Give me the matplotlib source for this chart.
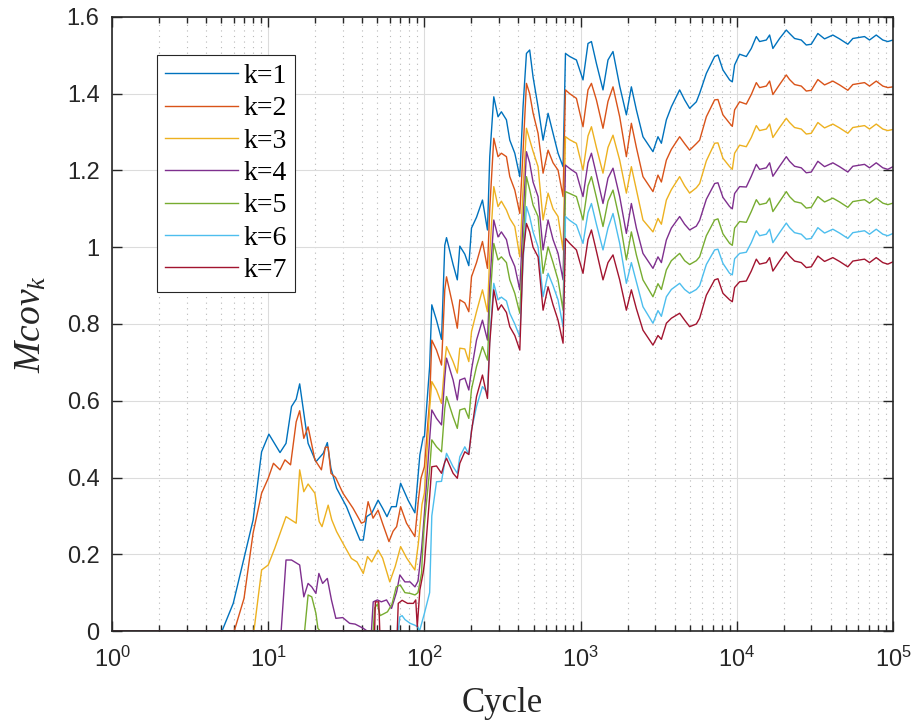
import matplotlib
matplotlib.use("Agg")
import matplotlib.pyplot as plt
from matplotlib.ticker import LogLocator, NullFormatter, FixedLocator, FuncFormatter

# ---- data (cycle, Mcov_k) ----
# early part, before the jump near 100 cycles, differs for each k
k1_early_x = [1, 5.06, 5.97, 8.0, 9.07, 10.1, 11.9, 13.0, 14.1, 15.1, 15.9, 18.0, 20.2, 22.5, 23.9,
              25.2, 27.4, 31.7, 35, 38.7, 40.6, 42.7, 46, 50.5, 54, 57.6, 61.5, 66, 70.4, 78.6,
              86.9, 93.5, 98.3]
k1_early_y = [0, 0, 0.072, 0.289, 0.467, 0.513, 0.465, 0.489, 0.585, 0.604, 0.644, 0.489, 0.441, 0.463, 0.491,
              0.424, 0.372, 0.324, 0.28, 0.237, 0.237, 0.298, 0.307, 0.341, 0.32, 0.298, 0.324, 0.324, 0.385, 0.341,
              0.308, 0.459, 0.506]

k2_early_x = [1, 6.06, 7.0, 8.0, 9.07, 10.0, 10.8, 11.9, 12.8, 13.9, 15.1, 15.9, 16.9, 18.0, 19.9,
              21.9, 23.2, 24.2, 25.2, 27, 30.1, 34.9, 39.5, 41.5, 43.6, 46.9, 50.5, 54, 59.3, 63,
              66.4, 70.4, 76.8, 86.9, 91.5, 95]
k2_early_y = [0, 0, 0.085, 0.255, 0.359, 0.398, 0.437, 0.420, 0.446, 0.433, 0.545, 0.574, 0.502, 0.532, 0.446,
              0.420, 0.479, 0.479, 0.411, 0.40, 0.359, 0.320, 0.281, 0.285, 0.337, 0.294, 0.315, 0.28, 0.233, 0.26,
              0.272, 0.324, 0.281, 0.246, 0.341, 0.398]

k3_early_x = [1, 8.1, 9.07, 10.0, 11.0, 13.0, 15.1, 15.9, 16.9, 18.0, 19.9, 21.2, 22.1, 24.2, 25.5,
              27.4, 30.9, 34.1, 37, 40.6, 43.2, 46, 50.5, 54, 60, 65, 70.4, 77, 86.9, 91.5, 96.5]
k3_early_y = [0, 0, 0.159, 0.172, 0.215, 0.298, 0.281, 0.420, 0.363, 0.383, 0.359, 0.285, 0.272, 0.328, 0.29,
              0.259, 0.220, 0.189, 0.18, 0.150, 0.194, 0.18, 0.211, 0.19, 0.128, 0.168, 0.220, 0.19, 0.159, 0.229, 0.33]

k4_early_x = [1, 12.1, 13.0, 14.1, 15.9, 16.9, 18.0, 19, 20.2, 21.1, 22.3, 23.9, 25.4, 27.1, 30,
              33.2, 36, 40.6, 43, 45.8, 47.0, 50, 53, 57.2, 61.6, 66.4, 69.6, 75, 80.9, 87,
              91, 95.8]
k4_early_y = [0, 0, 0.185, 0.185, 0.172, 0.089, 0.124, 0.115, 0.098, 0.150, 0.124, 0.137, 0.081, 0.033, 0.035,
              0.020, 0.018, 0.007, 0, 0, 0.076, 0.081, 0.076, 0.081, 0.059, 0.102, 0.146, 0.128, 0.128, 0.115,
              0.13, 0.211]

k5_early_x = [1, 17.1, 18.0, 19, 20.2, 20.8, 21.5, 47, 48, 50, 52, 55, 58, 62, 66,
              70, 75, 81, 87, 91, 95.8, 98.5]
k5_early_y = [0, 0, 0.094, 0.089, 0.046, 0.007, 0, 0, 0.06, 0.07, 0.04, 0.045, 0.05, 0.07, 0.115,
              0.12, 0.10, 0.098, 0.094, 0.10, 0.150, 0.25]

k6_early_x = [1, 68, 69.6, 72, 75, 81, 87, 91, 93, 96]
k6_early_y = [0, 0, 0.037, 0.04, 0.03, 0.02, 0.015, 0.01, 0, 0.02]

k7_early_x = [1, 48, 48.5, 51, 51.8, 67, 68, 72, 78, 85, 88, 90, 93.5, 98]
k7_early_y = [0, 0, 0.076, 0.076, 0, 0, 0.072, 0.08, 0.072, 0.072, 0.081, 0.011, 0.107, 0.15]

# later part, common cycle grid for all k
cycles = [100, 108, 111.5, 119.5, 128.7, 135, 138.5, 152.6, 162.4, 168.5,
          181.4, 192.4, 200.2, 215.5, 235.3, 253.3, 262, 278, 296, 311,
          335, 352, 379, 408, 428, 450, 472, 496, 534, 575,
          619, 666, 717, 772, 800, 852, 940, 1036, 1115, 1173,
          1262, 1391, 1497, 1612, 1779, 1963, 2113, 2275, 2507, 2905,
          3128, 3289, 3540, 3810, 4305, 4634, 4989, 5507, 5781, 6381,
          7211, 7571, 8150, 8995, 9359, 9681, 10420, 11500, 12380, 13330,
          13990, 15450, 16220, 17020, 18790, 20740, 21770, 23430, 25860, 27850,
          29970, 33030, 36460, 41190, 45480, 51370, 55320, 65710, 70730, 78080,
          86050, 92620, 100000]

k1 = [0.506, 0.689, 0.850, 0.810, 0.760, 1.005, 1.025, 0.955, 0.915, 1.003,
      0.982, 0.952, 1.050, 1.078, 1.123, 1.045, 1.236, 1.392, 1.340, 1.353,
      1.332, 1.279, 1.245, 1.184, 1.366, 1.505, 1.514, 1.444, 1.366, 1.279,
      1.349, 1.297, 1.245, 1.210, 1.505, 1.497, 1.488, 1.436, 1.531, 1.536,
      1.479, 1.410, 1.488, 1.510, 1.420, 1.345, 1.418, 1.358, 1.288, 1.249,
      1.288, 1.271, 1.332, 1.366, 1.410, 1.384, 1.362, 1.379, 1.401, 1.453,
      1.497, 1.501, 1.462, 1.436, 1.431, 1.475, 1.503, 1.497, 1.518, 1.549,
      1.536, 1.540, 1.553, 1.518, 1.544, 1.566, 1.557, 1.544, 1.540, 1.527,
      1.529, 1.557, 1.543, 1.553, 1.543, 1.529, 1.544, 1.549, 1.540, 1.553,
      1.540, 1.536, 1.540]
k2 = [0.428, 0.600, 0.758, 0.732, 0.693, 0.889, 0.923, 0.845, 0.789, 0.863,
      0.855, 0.832, 0.923, 0.960, 1.015, 0.945, 1.100, 1.284, 1.236, 1.245,
      1.236, 1.184, 1.149, 1.088, 1.250, 1.427, 1.400, 1.350, 1.297, 1.193,
      1.253, 1.220, 1.201, 1.132, 1.410, 1.400, 1.388, 1.314, 1.410, 1.427,
      1.384, 1.310, 1.380, 1.418, 1.340, 1.236, 1.323, 1.260, 1.184, 1.145,
      1.188, 1.170, 1.227, 1.255, 1.288, 1.270, 1.253, 1.270, 1.279, 1.340,
      1.384, 1.385, 1.345, 1.323, 1.315, 1.358, 1.379, 1.373, 1.398, 1.429,
      1.416, 1.420, 1.433, 1.398, 1.424, 1.449, 1.437, 1.424, 1.420, 1.407,
      1.409, 1.437, 1.423, 1.433, 1.423, 1.409, 1.424, 1.429, 1.420, 1.433,
      1.420, 1.416, 1.418]
k3 = [0.360, 0.580, 0.650, 0.628, 0.593, 0.700, 0.741, 0.702, 0.672, 0.737,
      0.735, 0.702, 0.780, 0.832, 0.889, 0.832, 0.980, 1.158, 1.106, 1.120,
      1.097, 1.075, 1.054, 0.975, 1.150, 1.310, 1.280, 1.250, 1.210, 1.071,
      1.141, 1.100, 1.080, 0.993, 1.288, 1.280, 1.271, 1.201, 1.290, 1.314,
      1.260, 1.193, 1.260, 1.292, 1.227, 1.141, 1.210, 1.150, 1.071, 1.040,
      1.075, 1.060, 1.123, 1.150, 1.184, 1.160, 1.141, 1.155, 1.166, 1.225,
      1.271, 1.272, 1.232, 1.210, 1.203, 1.245, 1.266, 1.262, 1.286, 1.317,
      1.304, 1.308, 1.321, 1.286, 1.312, 1.336, 1.325, 1.312, 1.308, 1.295,
      1.297, 1.325, 1.311, 1.321, 1.311, 1.297, 1.312, 1.317, 1.308, 1.321,
      1.308, 1.304, 1.307]
k4 = [0.307, 0.500, 0.576, 0.554, 0.537, 0.660, 0.711, 0.654, 0.602, 0.654,
      0.659, 0.628, 0.680, 0.758, 0.810, 0.758, 0.900, 1.071, 1.027, 1.040,
      1.020, 0.980, 0.950, 0.889, 1.070, 1.249, 1.220, 1.170, 1.132, 0.993,
      1.071, 1.020, 0.984, 0.915, 1.214, 1.205, 1.193, 1.132, 1.220, 1.245,
      1.190, 1.114, 1.180, 1.206, 1.132, 1.036, 1.114, 1.050, 0.984, 0.945,
      0.975, 0.960, 1.019, 1.050, 1.080, 1.060, 1.045, 1.055, 1.070, 1.125,
      1.166, 1.168, 1.130, 1.106, 1.100, 1.140, 1.158, 1.157, 1.185, 1.216,
      1.203, 1.207, 1.220, 1.185, 1.211, 1.236, 1.224, 1.211, 1.207, 1.194,
      1.196, 1.224, 1.210, 1.220, 1.210, 1.196, 1.211, 1.216, 1.207, 1.220,
      1.207, 1.203, 1.210]
k5 = [0.280, 0.420, 0.498, 0.480, 0.467, 0.580, 0.611, 0.558, 0.528, 0.576,
      0.580, 0.554, 0.630, 0.689, 0.741, 0.706, 0.850, 1.010, 0.967, 0.975,
      0.960, 0.915, 0.880, 0.828, 1.000, 1.184, 1.150, 1.110, 1.080, 0.932,
      1.001, 0.960, 0.915, 0.836, 1.145, 1.140, 1.132, 1.071, 1.160, 1.184,
      1.130, 1.054, 1.120, 1.149, 1.071, 0.967, 1.040, 0.980, 0.915, 0.871,
      0.905, 0.890, 0.941, 0.965, 0.984, 0.965, 0.955, 0.965, 0.975, 1.030,
      1.071, 1.074, 1.035, 1.010, 1.005, 1.050, 1.067, 1.065, 1.093, 1.124,
      1.111, 1.115, 1.128, 1.093, 1.119, 1.145, 1.132, 1.119, 1.115, 1.102,
      1.104, 1.132, 1.118, 1.128, 1.118, 1.104, 1.119, 1.124, 1.115, 1.128,
      1.115, 1.111, 1.115]
k6 = [0.046, 0.100, 0.300, 0.389, 0.390, 0.440, 0.463, 0.428, 0.411, 0.454,
      0.480, 0.460, 0.524, 0.585, 0.637, 0.620, 0.760, 0.906, 0.863, 0.870,
      0.860, 0.828, 0.800, 0.767, 0.960, 1.106, 1.080, 1.040, 1.001, 0.871,
      0.932, 0.900, 0.863, 0.793, 1.080, 1.070, 1.058, 1.010, 1.090, 1.114,
      1.060, 0.993, 1.050, 1.088, 1.010, 0.906, 0.960, 0.910, 0.845, 0.802,
      0.835, 0.820, 0.871, 0.890, 0.906, 0.890, 0.880, 0.890, 0.900, 0.955,
      0.993, 0.995, 0.958, 0.932, 0.928, 0.970, 0.984, 0.987, 1.012, 1.043,
      1.030, 1.034, 1.047, 1.012, 1.038, 1.063, 1.051, 1.038, 1.034, 1.021,
      1.023, 1.051, 1.037, 1.047, 1.037, 1.023, 1.038, 1.043, 1.034, 1.047,
      1.034, 1.030, 1.036]
k7 = [0.176, 0.350, 0.428, 0.430, 0.411, 0.440, 0.450, 0.411, 0.398, 0.437,
      0.467, 0.460, 0.520, 0.611, 0.667, 0.606, 0.750, 0.889, 0.836, 0.850,
      0.830, 0.793, 0.770, 0.732, 0.980, 1.062, 1.040, 1.000, 0.975, 0.836,
      0.897, 0.850, 0.810, 0.750, 1.023, 1.010, 0.993, 0.932, 1.020, 1.045,
      0.990, 0.915, 0.960, 0.980, 0.915, 0.836, 0.889, 0.840, 0.784, 0.745,
      0.770, 0.760, 0.802, 0.815, 0.828, 0.810, 0.793, 0.800, 0.815, 0.875,
      0.915, 0.918, 0.880, 0.863, 0.858, 0.895, 0.910, 0.912, 0.938, 0.969,
      0.956, 0.960, 0.973, 0.938, 0.964, 0.988, 0.977, 0.964, 0.960, 0.947,
      0.949, 0.977, 0.963, 0.973, 0.963, 0.949, 0.964, 0.969, 0.960, 0.973,
      0.960, 0.956, 0.962]

labels = ["k=1", "k=2", "k=3", "k=4", "k=5", "k=6", "k=7"]
colors = ["#0072BD", "#D95319", "#EDB120", "#7E2F8E", "#77AC30", "#4DBEEE", "#A2142F"]

early_x = [k1_early_x, k2_early_x, k3_early_x, k4_early_x, k5_early_x, k6_early_x, k7_early_x]
early_y = [k1_early_y, k2_early_y, k3_early_y, k4_early_y, k5_early_y, k6_early_y, k7_early_y]
late_y = [k1, k2, k3, k4, k5, k6, k7]

plt.rcParams['font.family'] = ['Liberation Sans', 'DejaVu Sans']
plt.rcParams['mathtext.fontset'] = 'custom'
plt.rcParams['mathtext.rm'] = 'Liberation Serif'
plt.rcParams['mathtext.it'] = 'Liberation Serif:italic'

fig = plt.figure(figsize=(9.13, 7.2), dpi=100)
ax = fig.add_axes([0.1227, 0.1236, 0.8554, 0.8528])

for i in range(7):
    x = early_x[i] + cycles
    y = early_y[i] + late_y[i]
    ax.plot(x, y, color=colors[i], lw=1.0, label=labels[i])

ax.set_xscale('log')
ax.set_xlim(1, 1e5)
ax.set_ylim(0, 1.6)
ax.yaxis.set_major_locator(FixedLocator([0, 0.2, 0.4, 0.6, 0.8, 1.0, 1.2, 1.4, 1.6]))
ax.yaxis.set_major_formatter(FuncFormatter(lambda v, p: "%g" % round(v, 2)))
ax.xaxis.set_minor_locator(LogLocator(base=10, subs=range(2, 10), numticks=20))
ax.xaxis.set_minor_formatter(NullFormatter())

ax.grid(True, which='major', color='#dcdcdc', lw=0.8, linestyle='-')
ax.grid(True, which='minor', axis='x', color='#b8b8b8', lw=0.8, linestyle=(0, (1, 4)))
ax.set_axisbelow(True)

for s in ax.spines.values():
    s.set_linewidth(1.2)
    s.set_color('#262626')
ax.tick_params(which='both', direction='in', top=True, right=True, colors='#262626',
               labelsize=17, width=1.0)
ax.tick_params(which='major', length=7)
ax.tick_params(which='minor', length=4)
ax.tick_params(axis='y', pad=9)
ax.tick_params(axis='x', pad=11)

ax.set_xlabel("Cycle", family='Liberation Serif', fontsize=25, labelpad=11, color='#262626')
ax.set_ylabel(r"$Mcov_k$", fontsize=27, labelpad=13, color='#262626')

leg = ax.legend(loc='upper left', bbox_to_anchor=(0.0576, 0.938), borderaxespad=0,
                prop={'family': 'Liberation Serif', 'size': 20}, fancybox=False,
                edgecolor='#262626', framealpha=1, handlelength=2.6, handletextpad=0.2,
                labelspacing=0.25, borderpad=0.3)
leg.get_frame().set_linewidth(0.8)

plt.savefig("out.png", dpi=100)
plt.close()
